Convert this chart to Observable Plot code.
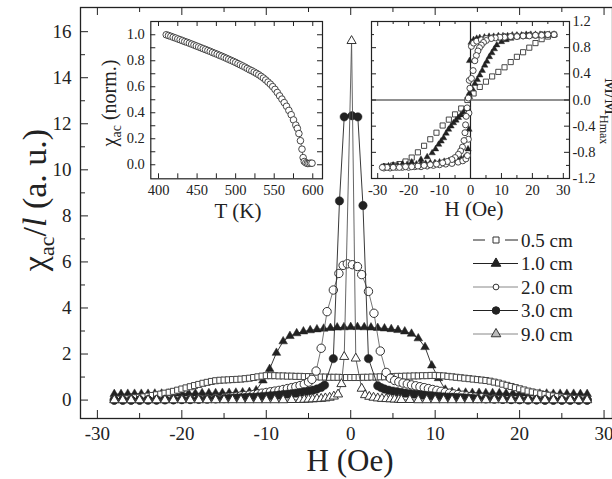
<!DOCTYPE html>
<html><head><meta charset="utf-8">
<script src="https://cdn.jsdelivr.net/npm/d3@7"></script>
<script src="https://cdn.jsdelivr.net/npm/@observablehq/plot@0.6"></script>
<style>
body{margin:0;background:#fff;}
#wrap{position:relative;width:612px;height:479px;overflow:hidden;background:#fff;}
#wrap svg{position:absolute;overflow:hidden;}
#wrap svg, #wrap svg text, #wrap svg tspan{font-family:"Liberation Serif","Tinos","Times New Roman","DejaVu Serif",serif !important;}
</style></head><body><div id="wrap"></div>
<script>
// ---------- main chart data: chi_ac/l vs H ----------
const seriesNames = ["0.5 cm","1.0 cm","2.0 cm","3.0 cm","9.0 cm"];
const h05 = [-28,-27.5,-27,-26.5,-26,-25.5,-25,-24.5,-24,-23.5,-23,-22.5,-22,-21.5,-21,-20.5,-20,-19.5,-19,-18.5,-18,-17.5,-17,-16.5,-16,-15.5,-15,-14.5,-14,-13.5,-13,-12.5,-12,-11.5,-11,-10.5,-10,-9.5,-9,-8.5,-8,-7.5,-7,-6.5,-6,-5.5,-5,-4.5,-4,-3.5,-3,-2.5,-2,-1.5,-1,-0.5,0,0.5,1,1.5,2,2.5,3,3.5,4,4.5,5,5.5,6,6.5,7,7.5,8,8.5,9,9.5,10,10.5,11,11.5,12,12.5,13,13.5,14,14.5,15,15.5,16,16.5,17,17.5,18,18.5,19,19.5,20,20.5,21,21.5,22,22.5,23,23.5,24,24.5,25,25.5,26,26.5,27,27.5,28];
const chi05 = [0.03,0.04,0.05,0.06,0.08,0.10,0.12,0.14,0.17,0.20,0.23,0.26,0.30,0.34,0.38,0.43,0.48,0.53,0.58,0.63,0.68,0.73,0.77,0.81,0.84,0.86,0.87,0.88,0.89,0.90,0.91,0.93,0.95,0.98,1.01,1.04,1.06,1.06,1.06,1.05,1.05,1.04,1.04,1.03,1.03,1.02,1.02,1.01,1.01,1.00,1.00,0.99,0.99,0.99,0.98,0.98,
  0.98,
  0.98,0.98,0.99,0.99,1.00,1.00,1.01,1.01,1.02,1.02,1.03,1.03,1.04,1.04,1.05,1.05,1.06,1.06,1.07,1.07,1.06,1.05,1.03,1.01,0.99,0.97,0.95,0.93,0.91,0.89,0.87,0.85,0.82,0.78,0.74,0.69,0.64,0.59,0.54,0.49,0.44,0.39,0.35,0.31,0.27,0.24,0.21,0.18,0.15,0.13,0.11,0.09,0.07,0.06,0.05,0.04];

const h10 = [-28,-27.2,-26.4,-25.6,-24.8,-24,-23.2,-22.4,-21.6,-20.8,-20,-19.2,-18.4,-17.6,-16.8,-16,-15.2,-14.4,-13.6,-12.8,-12,-11.2,-10.4,-9.6,-8.8,-8,-7.2,-6.4,-5.6,-4.8,-4,-3.2,-2.4,-1.6,-0.8,0,0.8,1.6,2.4,3.2,4,4.8,5.6,6.4,7.2,8,8.8,9.6,10.4,11.2,12,12.8,13.6,14.4,15.2,16,16.8,17.6,18.4,19.2,20,20.8,21.6,22.4,23.2,24,24.8,25.6,26.4,27.2,28];
const chi10 = [0.26,0.26,0.27,0.27,0.27,0.27,0.28,0.28,0.28,0.28,0.29,0.29,0.29,0.30,0.30,0.30,0.31,0.31,0.32,0.33,0.35,0.42,0.85,1.35,2.05,2.55,2.78,2.90,2.98,3.03,3.07,3.10,3.13,3.15,3.16,
  3.17,
  3.17,3.16,3.15,3.13,3.11,3.08,3.04,2.98,2.88,2.68,2.30,1.50,0.95,0.45,0.35,0.33,0.32,0.31,0.31,0.30,0.30,0.30,0.29,0.29,0.29,0.28,0.28,0.28,0.28,0.27,0.27,0.27,0.27,0.26,0.26];

const h20 = [-28,-27,-26,-25,-24,-23,-22,-21,-20,-19,-18,-17,-16,-15,-14.5,-14,-13.5,-13,-12.5,-12,-11.5,-11,-10.5,-10,-9.5,-9,-8.5,-8,-7.5,-7,-6.5,-6,-5.5,-5,-4.6,-4.1,-3.5,-2.8,-2.06,-1.4,-0.9,-0.4,0.2,0.8,1.3,2.1,2.75,3.5,4.2,4.7,5.2,5.7,6.2,6.7,7.2,7.7,8.2,8.7,9.2,9.7,10.2,10.7,11.2,11.7,12.2,12.7,13.2,13.7,14.2,14.7,15.5,16,17,18,19,20,21,22,23,24,25,26,27,28];
const chi20 = [0,0,0,0,0.01,0.01,0.02,0.02,0.03,0.04,0.05,0.06,0.08,0.10,0.12,0.14,0.16,0.18,0.20,0.22,0.24,0.27,0.30,0.33,0.36,0.39,0.42,0.46,0.50,0.54,0.58,0.63,0.69,0.78,0.90,1.26,2.25,3.84,4.78,5.50,5.85,5.92,5.88,5.80,5.45,4.72,3.77,2.13,1.20,0.95,0.85,0.79,0.74,0.70,0.66,0.62,0.58,0.54,0.50,0.46,0.42,0.38,0.34,0.30,0.27,0.24,0.21,0.18,0.15,0.13,0.10,0.08,0.06,0.04,0.03,0.02,0.01,0.01,0,0,0,0,0,0];

const h30 = [-28,-27,-26,-25,-24,-23,-22,-21,-20,-19,-18,-17,-16,-15,-14.5,-14,-13.5,-13,-12.5,-12,-11.5,-11,-10.5,-10,-9.5,-9,-8.5,-8,-7.5,-7,-6.5,-6,-5.5,-5,-4.5,-4,-3.5,-3.1,-2.06,-1.33,-0.77,0.15,0.84,1.45,2.1,3.2,3.6,4,4.5,5,5.5,6,6.5,7,7.5,8,8.5,9,9.5,10,10.5,11,11.5,12,12.5,13,13.5,14,14.5,15,16,17,18,19,20,21,22,23,24,25,26,27,28];
const chi30 = [0,0,0,0,0,0,0.01,0.01,0.02,0.02,0.03,0.04,0.05,0.06,0.07,0.08,0.09,0.10,0.11,0.12,0.13,0.14,0.16,0.17,0.19,0.20,0.22,0.24,0.26,0.28,0.30,0.33,0.36,0.39,0.43,0.48,0.55,0.65,1.80,8.65,12.30,12.35,12.30,8.45,1.80,0.62,0.54,0.48,0.43,0.39,0.36,0.33,0.30,0.28,0.26,0.24,0.22,0.20,0.19,0.17,0.16,0.14,0.13,0.12,0.11,0.10,0.09,0.08,0.07,0.06,0.05,0.04,0.03,0.02,0.02,0.01,0.01,0,0,0,0,0,0];

const h90 = [-28,-27,-26,-25,-24,-23,-22,-21,-20,-19,-18,-17,-16,-15,-14,-13,-12,-11,-10,-9,-8,-7,-6,-5.5,-5,-4.5,-4,-3.5,-3,-2.5,-2,-1.5,-1.1,-0.77,0.1,0.6,1.3,1.7,2.2,2.7,3.2,3.7,4.2,4.7,5.2,5.7,6,7,8,9,10,11,12,13,14,15,16,17,18,19,20,21,22,23,24,25,26,27,28];
const chi90 = [0,0,0,0,0,0,0,0,0,0,0,0,0,0,0,0,0,0,0,0,0,0.01,0.01,0.02,0.03,0.04,0.05,0.06,0.08,0.11,0.16,0.25,0.70,1.88,15.6,1.81,0.50,0.22,0.15,0.11,0.08,0.06,0.05,0.04,0.03,0.02,0.01,0.01,0,0,0,0,0,0,0,0,0,0,0,0,0,0,0,0,0,0,0,0,0];

const xTicksMain = [-30,-20,-10,0,10,20,30];
const xMinorMain = [-25,-15,-5,5,15,25];
const yTicksMain = [0,2,4,6,8,10,12,14,16];
const yMinorMain = [1,3,5,7,9,11,13,15];

// ---------- inset 1: chi_ac (norm.) vs T ----------
const tK = [410,413,416,419,422,425,428,431,434,437,440,443,446,449,452,455,458,461,464,467,470,473,476,479,482,485,488,491,494,497,500,503,506,509,512,515,518,521,524,527,530,533,536,539,542,545,548,551,554,557,560,563,566,569,572,575,578,580,582,584,586,587.5,589,591,593,595,597,599];
const chiT = [1.000,0.994,0.988,0.981,0.975,0.968,0.962,0.955,0.948,0.942,0.935,0.928,0.921,0.914,0.907,0.900,0.893,0.886,0.879,0.872,0.864,0.857,0.850,0.842,0.835,0.827,0.819,0.811,0.803,0.795,0.787,0.778,0.769,0.760,0.751,0.741,0.731,0.723,0.713,0.703,0.692,0.680,0.667,0.652,0.636,0.620,0.601,0.580,0.556,0.530,0.505,0.478,0.450,0.418,0.385,0.345,0.305,0.280,0.240,0.185,0.120,0.055,0.025,0.015,0.010,0.010,0.012,0.012];
const tTicks = [400,450,500,550,600];
const tMinor = [425,475,525,575];
const cTicks = [0,0.2,0.4,0.6,0.8,1.0];
const cMinor = [0.1,0.3,0.5,0.7,0.9];

// ---------- inset 2: M/M_Hmax vs H ----------
const sqDownH = [27,25,23,21,19,17,15,13,11,9,7,5,3,1,-1,-3,-5,-7,-9,-11,-13,-15,-17,-19,-21,-23,-25,-27,-28];
const sqDownM = [1.0,0.97,0.93,0.87,0.8,0.73,0.66,0.58,0.5,0.43,0.36,0.28,0.2,0.1,0.0,-0.13,-0.22,-0.3,-0.39,-0.5,-0.6,-0.7,-0.8,-0.88,-0.94,-0.98,-1.0,-1.02,-1.02];
const triDownH = [27,24,21,18,15,13,11.5,10,8.5,7.7,6.9,6.1,5.3,4.6,3.8,3.0,2.2,1.4,0.6,-0.3,-1.3,-2.3,-3.1,-3.9,-4.7,-5.5,-6.3,-7.1,-7.9,-8.7,-9.5,-10.3,-11.3,-12.4,-14,-16,-19,-22,-25,-28];
const triDownM = [1.0,0.99,0.98,0.97,0.96,0.94,0.92,0.89,0.84,0.78,0.72,0.66,0.59,0.53,0.45,0.38,0.31,0.25,0.17,0.05,-0.14,-0.19,-0.23,-0.27,-0.31,-0.35,-0.4,-0.45,-0.51,-0.58,-0.63,-0.68,-0.75,-0.81,-0.87,-0.91,-0.95,-0.98,-1.0,-1.02];
const triUpH = [-28,-26.5,-25,-23.5,-22,-20.5,-19,-17.5,-16,-14.5,-13,-11.5,-10,-8.5,-7,-5.5,-4,-3,-2,-1.3,-0.8,-0.5,-0.4,-0.3,0.2,1,2,3,4.5,6,7.5,9,10.5,12,13.5,15,16.5,18,19.5,21,22.5,24,25.5,27];
const triUpM = [-1.02,-1.01,-1.0,-1.0,-0.99,-0.99,-0.98,-0.98,-0.97,-0.97,-0.96,-0.96,-0.95,-0.94,-0.93,-0.92,-0.91,-0.9,-0.88,-0.85,-0.75,-0.45,0.1,0.6,0.88,0.92,0.94,0.95,0.96,0.97,0.97,0.98,0.98,0.98,0.99,0.99,0.99,1.0,1.0,1.0,1.0,1.0,1.0,1.0];
const cirDownH = [27,25,23,21,19,17,15,13,11,9.5,8,6.7,5.1,4.2,3.5,2.9,2.4,1.9,1.4,0.85,0.3,-0.2,-0.7,-1.1,-1.4,-1.6,-1.8,-2.1,-2.6,-3.2,-3.9,-5,-6,-7.5,-9,-11,-13,-15,-17,-19,-21,-23,-25,-27,-28.5];
const cirDownM = [1.0,1.0,0.99,0.99,0.98,0.98,0.97,0.97,0.96,0.96,0.95,0.94,0.91,0.88,0.84,0.8,0.75,0.68,0.6,0.45,0.33,0.18,0.03,-0.12,-0.25,-0.38,-0.5,-0.62,-0.72,-0.78,-0.83,-0.88,-0.91,-0.94,-0.96,-0.98,-0.99,-1.0,-1.01,-1.02,-1.02,-1.03,-1.03,-1.03,-1.03];
const cirUpH = [-28,-26,-24,-22,-20,-18,-16,-14,-12,-10,-8,-6,-4,-2.5,-1.5,-1,-0.7,-0.5,-0.4,0.3,1,2,3.5,5,7,9,11,13,15,17,19,21,23,25,27];
const cirUpM = [-1.04,-1.04,-1.03,-1.03,-1.03,-1.02,-1.02,-1.01,-1.0,-0.99,-0.98,-0.97,-0.95,-0.93,-0.9,-0.85,-0.6,-0.2,0.3,0.82,0.87,0.9,0.92,0.94,0.95,0.96,0.97,0.97,0.98,0.98,0.99,0.99,1.0,1.0,1.0];
const hTicks2 = [-30,-20,-10,0,10,20,30];
const hMinor2 = [-25,-15,-5,5,15,25];
const mTicks2 = [-1.2,-0.8,-0.4,0,0.4,0.8,1.2];
const mMinor2 = [-1.0,-0.6,-0.2,0.2,0.6,1.0];

// ---------- helpers ----------
const pair = (xs, ys) => xs.map((x, i) => ({x, y: ys[i]}));
const ink = "#222";
const wrap = document.getElementById("wrap");

function boxTicks({xMaj, xMin, yMaj, yMin, pw, ph, maj, min, sides}) {
  const o = {stroke: ink, strokeWidth: 1};
  const m = [];
  if (sides.includes("b")) { m.push(Plot.tickX(xMaj, {x: d => d, insetTop: ph - maj, ...o})); m.push(Plot.tickX(xMin, {x: d => d, insetTop: ph - min, ...o})); }
  if (sides.includes("t")) { m.push(Plot.tickX(xMaj, {x: d => d, insetBottom: ph - maj, ...o})); m.push(Plot.tickX(xMin, {x: d => d, insetBottom: ph - min, ...o})); }
  if (sides.includes("l")) { m.push(Plot.tickY(yMaj, {y: d => d, insetRight: pw - maj, ...o})); m.push(Plot.tickY(yMin, {y: d => d, insetRight: pw - min, ...o})); }
  if (sides.includes("r")) { m.push(Plot.tickY(yMaj, {y: d => d, insetLeft: pw - maj, ...o})); m.push(Plot.tickY(yMin, {y: d => d, insetLeft: pw - min, ...o})); }
  return m;
}
function addText(sel, {x, y, size, anchor = "middle", transform, parts}) {
  const t = sel.append("text").attr("font-size", size).attr("fill", ink).attr("text-anchor", anchor);
  if (transform) t.attr("transform", transform); else t.attr("x", x).attr("y", y);
  for (const p of parts) {
    const s = t.append("tspan").text(p.t);
    if (p.size) s.attr("font-size", p.size);
    if (p.dy) s.attr("dy", p.dy);
    if (p.italic) s.attr("font-style", "italic");
  }
  return t;
}

// ---------- main plot ----------
const d05 = pair(h05, chi05), d10 = pair(h10, chi10), d20 = pair(h20, chi20), d30 = pair(h30, chi30), d90 = pair(h90, chi90);
const mW = 612, mH = 479, mL = 80, mR = 0, mT = 7, mB = 61;
const main = Plot.plot({
  width: mW, height: mH, marginLeft: mL, marginRight: mR, marginTop: mT, marginBottom: mB,
  style: {fontSize: "19px", color: ink, background: "transparent"},
  x: {domain: [-32, 31], ticks: xTicksMain, tickFormat: d => String(d), tickSize: 0, tickPadding: 8, label: null},
  y: {domain: [-0.8, 17.05], ticks: yTicksMain, tickFormat: d => String(d), tickSize: 0, tickPadding: 9, label: null},
  marks: [
    Plot.frame({stroke: ink, strokeWidth: 1.3}),
    ...boxTicks({xMaj: xTicksMain, xMin: xMinorMain, yMaj: yTicksMain, yMin: yMinorMain, pw: mW - mL - mR, ph: mH - mT - mB, maj: 8, min: 5, sides: "btl"}),
    Plot.line(d10, {x: "x", y: "y", stroke: ink, strokeWidth: 0.9}),
    Plot.dot(d10, {x: "x", y: "y", symbol: "triangle", r: 3.2, fill: ink, stroke: ink, strokeWidth: 0.5}),
    Plot.line(d05, {x: "x", y: "y", stroke: "#333", strokeWidth: 0.8}),
    Plot.dot(d05, {x: "x", y: "y", symbol: "square", r: 3.4, fill: "white", stroke: "#444", strokeWidth: 1}),
    Plot.line(d20, {x: "x", y: "y", stroke: "#666", strokeWidth: 0.9}),
    Plot.dot(d20, {x: "x", y: "y", symbol: "circle", r: 4.2, fill: "white", stroke: "#333", strokeWidth: 1}),
    Plot.line(d30, {x: "x", y: "y", stroke: ink, strokeWidth: 0.9}),
    Plot.dot(d30, {x: "x", y: "y", symbol: "circle", r: 4.2, fill: ink, stroke: ink, strokeWidth: 0.5}),
    Plot.line(d90, {x: "x", y: "y", stroke: "#555", strokeWidth: 0.9}),
    Plot.dot(d90, {x: "x", y: "y", symbol: "triangle", r: 3.4, fill: "white", stroke: "#333", strokeWidth: 1})
  ]
});
main.style.left = "0px"; main.style.top = "0px";
wrap.appendChild(main);

const ms = d3.select(main);
addText(ms, {transform: "translate(46,200) rotate(-90)", size: 34, parts: [
  {t: "χ"}, {t: "ac", size: 22, dy: 8}, {t: "/", dy: -8}, {t: "l", italic: true}, {t: " (a. u.)"}]});
addText(ms, {x: 350, y: 471, size: 31, parts: [{t: "H (Oe)"}]});

// legend
const legRows = [
  {name: seriesNames[0], sym: d3.symbolSquare, size: 36, fill: "white", stroke: "#333", line: "#222", gap: true},
  {name: seriesNames[1], sym: d3.symbolTriangle, size: 40, fill: ink, stroke: ink, line: "#222"},
  {name: seriesNames[2], sym: d3.symbolCircle, size: 26, fill: "white", stroke: "#333", line: "#888"},
  {name: seriesNames[3], sym: d3.symbolCircle, size: 44, fill: ink, stroke: ink, line: "#222"},
  {name: seriesNames[4], sym: d3.symbolTriangle, size: 40, fill: "#bbb", stroke: "#333", line: "#888"}
];
const lg = ms.append("g");
legRows.forEach((r, i) => {
  const y = 240 + i * 23.5;
  const segs = r.gap ? [[473, 485], [505, 518]] : [[473, 518]];
  for (const [a, b] of segs)
    lg.append("line").attr("x1", a).attr("x2", b).attr("y1", y).attr("y2", y).attr("stroke", r.line).attr("stroke-width", 1);
  lg.append("path").attr("d", d3.symbol().type(r.sym).size(r.size)()).attr("transform", `translate(496,${y})`)
    .attr("fill", r.fill).attr("stroke", r.stroke).attr("stroke-width", 1);
  addText(lg, {x: 521, y: y + 6.5, size: 19, anchor: "start", parts: [{t: r.name}]});
});

// ---------- inset 1 ----------
const dT = pair(tK, chiT);
const i1W = 240, i1H = 230, i1L = 60.3, i1R = 8, i1T = 21, i1B = 51.7;
const ins1 = Plot.plot({
  width: i1W, height: i1H, marginLeft: i1L, marginRight: i1R, marginTop: i1T, marginBottom: i1B,
  style: {fontSize: "14.5px", color: ink, background: "transparent"},
  x: {domain: [390, 612.6], ticks: tTicks, tickFormat: d => String(d), tickSize: 0, tickPadding: 6, label: null},
  y: {domain: [-0.108, 1.102], ticks: cTicks, tickFormat: d => d.toFixed(1), tickSize: 0, tickPadding: 6, label: null},
  marks: [
    Plot.frame({stroke: ink, strokeWidth: 1.2}),
    ...boxTicks({xMaj: tTicks, xMin: tMinor, yMaj: cTicks, yMin: cMinor, pw: i1W - i1L - i1R, ph: i1H - i1T - i1B, maj: 5, min: 5, sides: "btlr"}),
    Plot.line(dT, {x: "x", y: "y", stroke: "#444", strokeWidth: 0.8}),
    Plot.dot(dT, {x: "x", y: "y", symbol: "circle", r: 3.3, fill: "white", stroke: "#333", strokeWidth: 0.9})
  ]
});
ins1.style.left = "90px"; ins1.style.top = "0px";
wrap.appendChild(ins1);
const s1 = d3.select(ins1);
addText(s1, {transform: "translate(26,103) rotate(-90)", size: 20, parts: [
  {t: "χ"}, {t: "ac", size: 14, dy: 5}, {t: " (norm.)", dy: -5}]});
addText(s1, {x: 148, y: 218, size: 21, parts: [{t: "T (K)"}]});

// ---------- inset 2 ----------
const i2W = 252, i2H = 230, i2L = 11, i2R = 43, i2T = 21, i2B = 52;
const ins2 = Plot.plot({
  width: i2W, height: i2H, marginLeft: i2L, marginRight: i2R, marginTop: i2T, marginBottom: i2B,
  style: {fontSize: "14.5px", color: ink, background: "transparent"},
  x: {domain: [-32, 32], ticks: hTicks2, tickFormat: d => String(d), tickSize: 0, tickPadding: 6, label: null},
  y: {domain: [-1.2, 1.2], axis: "right", ticks: mTicks2, tickFormat: d => d.toFixed(1), tickSize: 0, tickPadding: 3, label: null},
  marks: [
    Plot.frame({stroke: ink, strokeWidth: 1.2}),
    ...boxTicks({xMaj: hTicks2, xMin: hMinor2, yMaj: mTicks2, yMin: mMinor2, pw: i2W - i2L - i2R, ph: i2H - i2T - i2B, maj: 5, min: 3, sides: "btlr"}),
    Plot.ruleX([0], {stroke: ink, strokeWidth: 1.2}),
    Plot.ruleY([0], {stroke: ink, strokeWidth: 1.2}),
    Plot.dot(pair(sqDownH, sqDownM), {x: "x", y: "y", symbol: "square", r: 2.9, fill: "white", stroke: "#333", strokeWidth: 0.9}),
    Plot.dot(pair(triDownH, triDownM), {x: "x", y: "y", symbol: "triangle", r: 2.4, fill: ink, stroke: ink, strokeWidth: 0.4}),
    Plot.dot(pair(triUpH, triUpM), {x: "x", y: "y", symbol: "triangle", r: 2.4, fill: ink, stroke: ink, strokeWidth: 0.4}),
    Plot.dot(pair(cirUpH, cirUpM), {x: "x", y: "y", symbol: "circle", r: 3, fill: "white", stroke: "#333", strokeWidth: 0.9}),
    Plot.dot(pair(cirDownH, cirDownM), {x: "x", y: "y", symbol: "circle", r: 3, fill: "white", stroke: "#333", strokeWidth: 0.9})
  ]
});
ins2.style.left = "360px"; ins2.style.top = "0px";
wrap.appendChild(ins2);
const s2 = d3.select(ins2);
addText(s2, {x: 114, y: 216, size: 21, parts: [{t: "H (Oe)"}]});
addText(s2, {transform: "translate(245,78) rotate(90)", size: 18, anchor: "start", parts: [
  {t: "M/M"}, {t: "Hmax", size: 12, dy: 5}]});
</script></body></html>
